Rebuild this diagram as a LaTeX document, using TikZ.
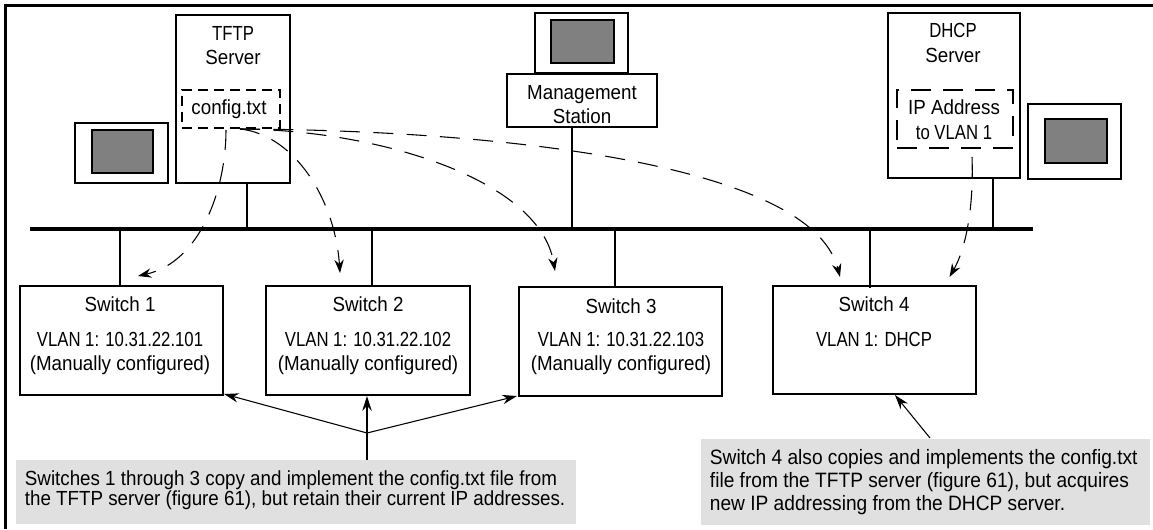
\documentclass[tikz,border=0pt]{standalone}
\usepackage{fontspec}
\setmainfont[FakeStretch=0.92]{Liberation Sans}
\newfontfamily\narrowfont[FakeStretch=0.82]{Liberation Sans}
\usetikzlibrary{arrows.meta}
\definecolor{screen}{HTML}{808080}
\definecolor{note}{HTML}{E0E0E0}
\newcommand\rectnode[6]{%
  \pgfmathsetmacro\rw{(#5-#3)*.75}\pgfmathsetmacro\rh{(#6-#4)*.75}%
  \node[#1,minimum width=\rw pt,minimum height=\rh pt] (#2) at ({(#3+#5)/2},{(#4+#6)/2}) {};}
\tikzset{
  x=0.75pt,y=-0.75pt,
  box/.style={draw=black,line width=1.5pt,inner sep=0pt,outer sep=0pt},
  screenbox/.style={box,fill=screen},
  dashbox/.style={draw=black,line width=1.5pt,inner sep=0pt,outer sep=0pt,dash pattern=on 7.5pt off 4.5pt},
  dashboxlong/.style={draw=black,line width=1.5pt,inner sep=0pt,outer sep=0pt,dash pattern=on 15pt off 9pt},
  wire/.style={draw=black,line width=1.3pt},
  bus/.style={draw=black,line width=2.3pt},
  flow/.style={draw=black,line width=0.8pt,dash pattern=on 15pt off 10pt,-{Stealth[length=10pt,width=7pt]}},
  callout/.style={draw=black,line width=0.8pt,-{Stealth[length=11pt,width=7pt]}},
  calloutup/.style={draw=black,line width=1.5pt,-{Stealth[length=11pt,width=7pt]}},
  lbl/.style={inner sep=0pt,align=center,font=\fontsize{15.3}{18.6}\selectfont},
  swlbl/.style={inner sep=0pt,align=center,font=\fontsize{15.3}{18}\selectfont},
  notebox/.style={inner xsep=6.5pt,inner ysep=0pt,align=left,font=\fontsize{15.3}{15}\selectfont},
  noteboxwide/.style={inner xsep=6.5pt,inner ysep=0pt,align=left,font=\fontsize{15.6}{17.5}\selectfont}
}
\begin{document}
\begin{tikzpicture}
\useasboundingbox (0,0) rectangle (1153,529);
% frame
\coordinate (fa) at (5.5,529); \coordinate (fb) at (5.5,5.5); \coordinate (fc) at (1153,5.5);
\draw[line width=2.3pt] (fa) -- (fb) -- (fc);
% servers and stations
\rectnode{box}{tftp}{176}{15}{290}{183}
\rectnode{dashbox}{cfg}{182}{90}{280}{128}
\rectnode{box}{mon1}{75}{123}{168}{183}
\rectnode{screenbox}{scr1}{92}{130}{153}{173}
\rectnode{box}{mon2}{535}{13}{628}{73}
\rectnode{screenbox}{scr2}{551}{20}{613.5}{63}
\rectnode{box}{mgmt}{507}{74}{657}{127}
\rectnode{box}{dhcp}{888}{13}{1019.5}{178}
\rectnode{dashboxlong}{addr}{897}{90}{1013}{148}
\rectnode{box}{mon3}{1028}{104}{1121}{179}
\rectnode{screenbox}{scr3}{1044.5}{119}{1107}{163}
\node[lbl] (tftpl) at (233,45.5) {{\narrowfont TFTP}\\Server};
\node[lbl] (cfgl) at (229,109) {config.txt};
\node[lbl] (mgmtl) at (582,104.5) {Management\\Station};
\node[lbl] (dhcpl) at (953,43) {{\narrowfont DHCP}\\Server};
\node[lbl] (addrl) at (954,119.5) {IP Address\\{\narrowfont to VLAN 1}};
% switches
\rectnode{box}{sw1}{19.5}{286}{223}{395}
\rectnode{box}{sw2}{266}{286}{470}{395}
\rectnode{box}{sw3}{519}{287}{722}{396}
\rectnode{box}{sw4}{773}{286}{976}{394}
\node[swlbl] (sw1a) at (120,304) {Switch 1};
\node[swlbl] (sw1b) at (120,353) {{\narrowfont VLAN 1: 10.31.22.101}\\(Manually configured)};
\node[swlbl] (sw2a) at (368,304) {Switch 2};
\node[swlbl] (sw2b) at (368,353) {{\narrowfont VLAN 1: 10.31.22.102}\\(Manually configured)};
\node[swlbl] (sw3a) at (621,306) {Switch 3};
\node[swlbl] (sw3b) at (621,353.5) {{\narrowfont VLAN 1: 10.31.22.103}\\(Manually configured)};
\node[swlbl] (sw4a) at (874,304) {Switch 4};
\node[swlbl] (sw4b) at (874,339) {{\narrowfont VLAN 1: DHCP}};
% bus
\coordinate (busl) at (30,229); \coordinate (busr) at (1033,229);
\draw[bus] (busl) -- (busr);
\coordinate (t1) at (247,229); \coordinate (t2) at (572,229); \coordinate (t3) at (993,229);
\coordinate (b1) at (120,229); \coordinate (b2) at (372,229); \coordinate (b3) at (615,229); \coordinate (b4) at (870,227);
\draw[wire] (tftp.south -| t1) -- (t1);
\draw[wire] (mgmt.south -| t2) -- (t2);
\draw[wire] (dhcp.south -| t3) -- (t3);
\draw[wire] (b1) -- (sw1.north -| b1);
\draw[wire] (b2) -- (sw2.north -| b2);
\draw[wire] (b3) -- (sw3.north -| b3);
\coordinate (b4e) at (870,288);
\draw[wire] (b4) -- (b4e);
% dashed flows
\coordinate (c0) at (226,130); \coordinate (c1) at (240,129); \coordinate (d0) at (972,157);
\coordinate (e1) at (138,276); \coordinate (e2) at (340,273); \coordinate (e3) at (555,271);
\coordinate (e4) at (840,277); \coordinate (e5) at (949.5,277);
\draw[flow] (c0) .. controls (226,190) and (200,262) .. (e1);
\draw[flow] (c1) .. controls (295,135) and (335,200) .. (e2);
\draw[flow] (c1) .. controls (380,130) and (540,180) .. (e3);
\draw[flow] (c1) .. controls (480,130) and (810,160) .. (e4);
\draw[flow] (d0) .. controls (974,210) and (965,250) .. (e5);
% notes
\rectnode{fill=note,inner sep=0pt,outer sep=0pt}{n1bg}{16}{460}{576}{524}
\node[notebox,anchor=west] (n1) at (16,490) {Switches 1 through 3 copy and implement the config.txt file from\\the TFTP server (figure 61), but retain their current IP addresses.};
\rectnode{fill=note,inner sep=0pt,outer sep=0pt}{n2bg}{701}{439}{1150}{525}
\node[noteboxwide,anchor=west] (n2) at (701,482) {Switch 4 also copies and implements the config.txt\\file from the TFTP server (figure 61), but acquires\\new IP addressing from the DHCP server.};
% callouts
\coordinate (j) at (367,433);
\coordinate (a1) at (224,394); \coordinate (a3) at (517,396); \coordinate (a2) at (367,396);
\coordinate (a4) at (895,395); \coordinate (s4) at (930,438); \coordinate (up) at (367,460);
\draw[calloutup] (up) -- (a2);
\draw[callout] (j) -- (a1);
\draw[callout] (j) -- (a3);
\draw[callout] (s4) -- (a4);
\end{tikzpicture}
\end{document}
